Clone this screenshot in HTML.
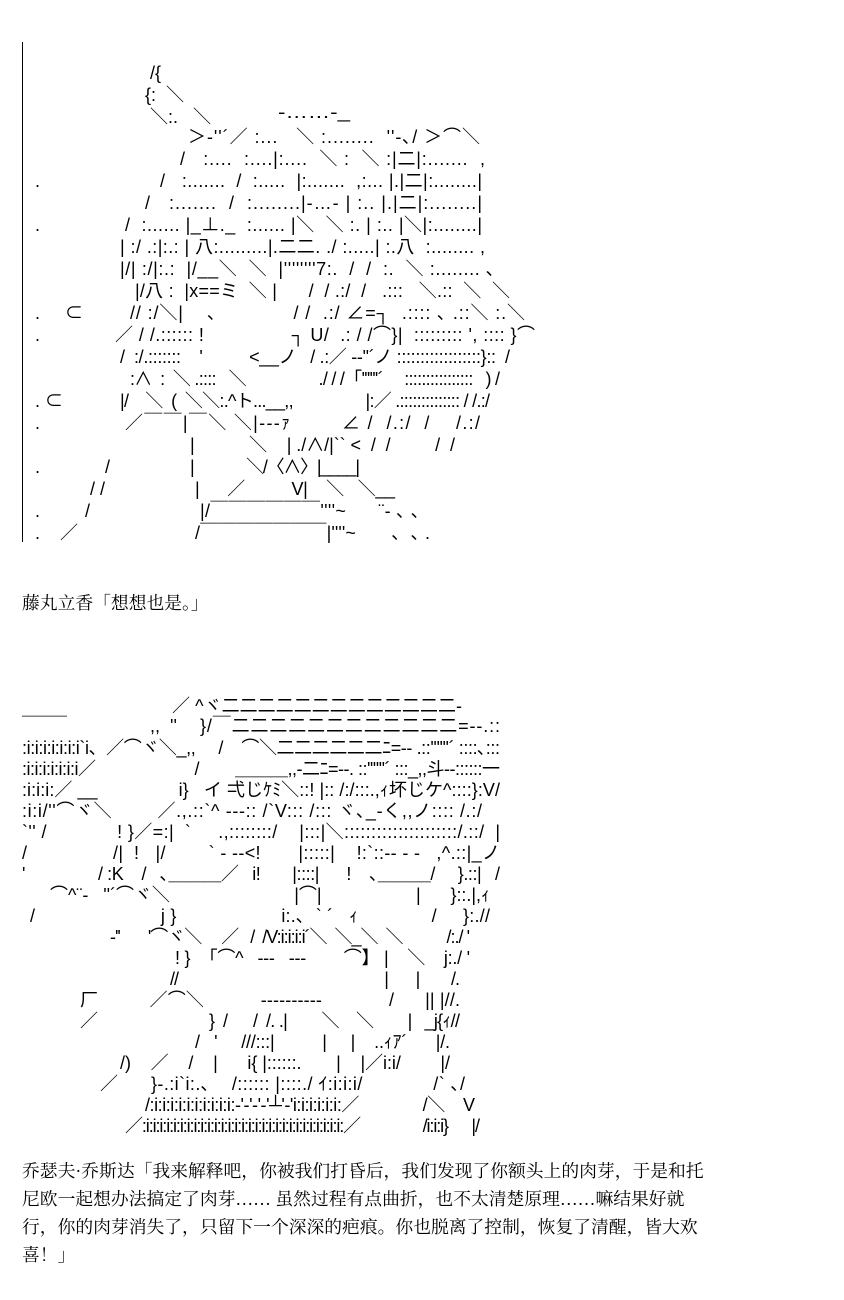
<!DOCTYPE html>
<html><head><meta charset="utf-8">
<style>
html,body{margin:0;padding:0;background:#fff;width:844px;height:1300px;overflow:hidden;}
svg{display:block;}
text{white-space:pre;font-family:"Liberation Sans","Noto Sans CJK JP",sans-serif;font-size:18px;fill:#000;}
.t{font-family:"Liberation Serif","Noto Serif CJK SC","Noto Sans CJK SC",serif;font-size:17.8px;}
</style></head><body>
<svg width="844" height="1300" viewBox="0 0 844 1300" xmlns="http://www.w3.org/2000/svg">
<rect width="844" height="1300" fill="#fff"/>
<line x1="22.5" y1="42" x2="22.5" y2="542" stroke="#000" stroke-width="1"/>

<text x="150" y="79">/{</text>
<text x="145" y="101">{:  ＼</text>
<text x="150" y="123">＼:.   ＼</text>
<text x="278" y="118" textLength="72" lengthAdjust="spacingAndGlyphs">‐……‐_</text>
<text x="188" y="143" textLength="292" lengthAdjust="spacing">＞‐''´／ :...   ＼ :........  ''‐､/ ＞⌒＼</text>
<text x="180" y="165" textLength="305" lengthAdjust="spacing">/   :....  :....|:....  ＼ :  ＼ :|二|:.......  ,</text>
<text x="35" y="187">.</text>
<text x="160" y="187" textLength="322" lengthAdjust="spacing">/   :.......  /  :.....  |:.......  ,:... |.|二|:........|</text>
<text x="145" y="209" textLength="337" lengthAdjust="spacing">/   :.......  /  :........|‐…‐ | :.. |.|二|:........|</text>
<text x="35" y="231">.</text>
<text x="125" y="231" textLength="357" lengthAdjust="spacing">/  :...... |_⊥._  :...... |＼  ＼ :. | :.. |＼|:........|</text>
<text x="120" y="253" textLength="365" lengthAdjust="spacing">| :/ .:|:.: | 八:.........|.二二. ./ :.....| :.八  :........ ,</text>
<text x="120" y="275" textLength="375" lengthAdjust="spacing">|/| :/|:.:  |/__＼  ＼  |''''''''7:.  /  /  :.  ＼ :........ ､</text>
<text x="135" y="297" textLength="375" lengthAdjust="spacing">|/八 :  |x==ミ  ＼ |      /  / .:/  /   .:::   ＼.::  ＼  ＼</text>
<text x="35" y="319">.     ⊂</text>
<text x="130" y="319" textLength="395" lengthAdjust="spacing">// :/＼|    ､             / /  .:/ ∠=┐  .:::: ､ .::＼ :.＼</text>
<text x="35" y="341">.</text>
<text x="115" y="341" textLength="420" lengthAdjust="spacing">／ / /.:::::: !                ┐ U/  .: / /⌒}|  ::::::::: ', :::: }⌒</text>
<text x="120" y="363" textLength="390" lengthAdjust="spacing">/  :/.:::::::    '          &lt;__ノ   / .:／ ‐‐''´ノ ::::::::::::::::::}::  /</text>
<text x="130" y="385" textLength="370" lengthAdjust="spacing">:∧  :  ＼ .::::   ＼                 ./ / /「''''''´     ::::::::::::::::   ) /</text>
<text x="35" y="407">. ⊂</text>
<text x="120" y="407" textLength="370" lengthAdjust="spacing">|/    ＼  (  ＼＼:.^ト...__,,                 |:／ .:::::::::::::: / /.:/</text>
<text x="35" y="429">.</text>
<text x="125" y="429" textLength="355" lengthAdjust="spacing">／￣￣|￣＼ ＼|‐‐‐ｧ        ∠ /  /.:/  /    /.:/</text>
<text x="190" y="451" textLength="265" lengthAdjust="spacing">|           ＼    | ./∧/|`` &lt;  /  /         /  /</text>
<text x="35" y="473">.</text>
<text x="105" y="473">/</text>
<text x="190" y="473" textLength="170" lengthAdjust="spacing">|              ＼/〈∧〉|____|</text>
<text x="90" y="495">/ /</text>
<text x="195" y="495" textLength="200" lengthAdjust="spacing">|      ／          V|    ＼   ＼__</text>
<text x="35" y="517">.         /</text>
<text x="200" y="517" textLength="220" lengthAdjust="spacing">|/￣￣￣￣￣￣''''~      ¨‐ ､ ､</text>
<text x="35" y="539">.    ／</text>
<text x="195" y="539" textLength="235" lengthAdjust="spacing">/￣￣￣￣￣￣￣|''''~       ､  ､ .</text>

<text class="t" x="22" y="609">藤丸立香「想想也是。」</text>

<text x="172" y="712" textLength="290" lengthAdjust="spacing">／ ^ヾ二二二二二二二二二二二二二‐</text>
<text x="150" y="732">,,  ''</text>
<text x="200" y="732" textLength="300" lengthAdjust="spacing">}/￣二二二二二二二二二二二二=‐‐.::</text>
<text x="22" y="732" textLength="45" lengthAdjust="spacingAndGlyphs">￣￣</text>
<text x="22" y="754" textLength="478" lengthAdjust="spacing">:i:i:i:i:i:i:i`i、／⌒ヾ＼_,,     /    ⌒＼二二二二二二ﾆ=‐‐ .::''''''´ ::::､:::</text>
<text x="22" y="775" textLength="478" lengthAdjust="spacing">:i:i:i:i:i:i:i／                      /        ＿＿＿,,‐二ﾆ=‐‐. ::''''''´ :::_,,斗‐‐::::::一</text>
<text x="22" y="796" textLength="478" lengthAdjust="spacing">:i:i:i:／ __                i}   イ 弌じｹﾐ＼::! |:: /:/:::.,ｨ坏じケ^::::}:V/</text>
<text x="22" y="817" textLength="460" lengthAdjust="spacing">:i:i/''⌒ヾ＼        ／.,.::`^ ‐‐‐:: /`V::: /::: ヾ､_‐く,,ノ:::: /.:/</text>
<text x="22" y="838" textLength="478" lengthAdjust="spacing">`'' /             ! }／=:|  `     .,::::::::/    |:::|＼:::::::::::::::::::::/.::/  |</text>
<text x="22" y="859" textLength="478" lengthAdjust="spacing">/                /|  !   |/        ` ‐ ‐‐&lt;!       |:::::|    !:`::‐‐ ‐ ‐   ,^.::|_ノ</text>
<text x="22" y="880" textLength="478" lengthAdjust="spacing">'                / :K    /   ､＿＿＿／   i!       |::::|      !    ､＿＿＿/     }.::|   /</text>
<text x="50" y="901" textLength="440" lengthAdjust="spacing">⌒^¨‐   ''´⌒ヾ＼                         |⌒|                   |      }::.|,ｨ</text>
<text x="30" y="922" textLength="460" lengthAdjust="spacing">/                        j }                    i:.､  ` ´   ｨ              /     }:.//</text>
<text x="110" y="943" textLength="360" lengthAdjust="spacing">‐''       '⌒ヾ＼     ／   /  /V:i:i:i:i´＼  ＼_＼  ＼           /:./ '</text>
<text x="175" y="964" textLength="295" lengthAdjust="spacing">! }  「⌒^   ‐‐-   ‐‐‐        ⌒】 |    ＼    j:./ '</text>
<text x="170" y="985" textLength="290" lengthAdjust="spacing">//                                                    |       |        /.</text>
<text x="80" y="1006" textLength="380" lengthAdjust="spacing">厂          ／⌒＼           ‐‐‐‐‐‐‐‐‐-             /      || |//.</text>
<text x="80" y="1027" textLength="380" lengthAdjust="spacing">／                          }  /      /  /. .|        ＼    ＼        |   _j{ｨ//</text>
<text x="195" y="1048" textLength="255" lengthAdjust="spacing">/   '     ///:::|          |     |    ..ｨｱ´      |/.</text>
<text x="120" y="1069" textLength="330" lengthAdjust="spacing">/)    ／    /    |      i{ |::::::.       |    |／i:i/        |/</text>
<text x="100" y="1090" textLength="365" lengthAdjust="spacing">／      }‐.:i`i:.､    /:::::: |::::./ ｲ:i:i:i/             /` ､/</text>
<text x="145" y="1111" textLength="330" lengthAdjust="spacing">/:i:i:i:i:i:i:i:i:i:i:‐'‐'‐'‐'┴'‐'i:i:i:i:i:i:／              /＼    V</text>
<text x="125" y="1132" textLength="355" lengthAdjust="spacing">／:i:i:i:i:i:i:i:i:i:i:i:i:i:i:i:i:i:i:i:i:i:i:i:i:i:i:i:i:i:／                /i:i:i}      |/</text>

<text class="t" x="22" y="1177">乔瑟夫·乔斯达「我来解释吧，你被我们打昏后，我们发现了你额头上的肉芽，于是和托</text>
<text class="t" x="22" y="1205">尼欧一起想办法搞定了肉芽…… 虽然过程有点曲折，也不太清楚原理……嘛结果好就</text>
<text class="t" x="22" y="1233">行，你的肉芽消失了，只留下一个深深的疤痕。你也脱离了控制，恢复了清醒，皆大欢</text>
<text class="t" x="22" y="1261">喜！」</text>
</svg>
</body></html>
